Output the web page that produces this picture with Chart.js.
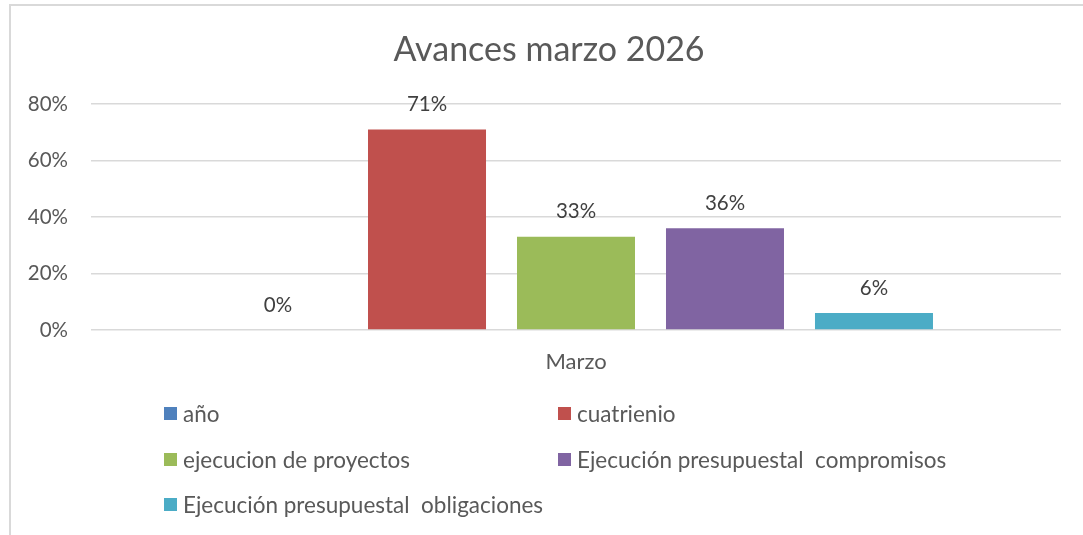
<!DOCTYPE html>
<html>
<head>
<meta charset="utf-8">
<script src="https://cdn.jsdelivr.net/npm/chart.js@4/dist/chart.umd.min.js"></script>
<style>
    html, body { margin: 0; padding: 0; background: #fff; }
    #wrap { position: relative; width: 1083px; height: 535px; overflow: hidden; }
    #frame {
        position: absolute; left: 9px; top: 4px; width: 1200px; height: 700px;
        border-top: 2px solid #d9d9d9; border-left: 2px solid #d9d9d9;
    }
    #container { position: absolute; left: 0; top: 0; }
    #legend {
        position: absolute; left: 164px; top: 391px;
        display: grid; grid-template-columns: 394px auto; grid-auto-rows: 45.5px;
        align-items: center;
        font-family: Lato, sans-serif; font-size: 22.5px; color: #595959;
    }
    #legend .item { display: flex; align-items: center; white-space: pre; }
    #legend .box { width: 13px; height: 13px; margin-right: 6px; }
</style>
</head>
<body>
<div id="wrap">
    <div id="frame"></div>
    <canvas id="container" width="1083" height="535"></canvas>
    <div id="legend"></div>
</div>
<script>
const categories = ['Marzo'];
const seriesNames = [
    'año',
    'cuatrienio',
    'ejecucion de proyectos',
    'Ejecución presupuestal  compromisos',
    'Ejecución presupuestal  obligaciones'
];
const seriesValues = [0, 71, 33, 36, 6];
const seriesColors = ['#4f81bd', '#c0504d', '#9bbb59', '#8064a2', '#4bacc6'];
const yTicks = [0, 20, 40, 60, 80];
const chartTitle = 'Avances marzo 2026';

const FONT = 'Lato, sans-serif';
const TEXT = '#595959';

// draws the value above each bar
const barLabels = {
    id: 'barLabels',
    afterDatasetsDraw(chart) {
        const ctx = chart.ctx;
        ctx.save();
        ctx.font = '20.5px ' + FONT;
        ctx.fillStyle = '#404040';
        ctx.textAlign = 'center';
        ctx.textBaseline = 'middle';
        chart.data.datasets.forEach((ds, i) => {
            const meta = chart.getDatasetMeta(i);
            meta.data.forEach((bar, j) => {
                ctx.fillText(ds.data[j] + '%', bar.x, bar.y - 25);
            });
        });
        ctx.restore();
    }
};

// title sits over the whole frame, not the plot area
const frameTitle = {
    id: 'frameTitle',
    afterDraw(chart) {
        const ctx = chart.ctx;
        ctx.save();
        ctx.font = '34px ' + FONT;
        ctx.fillStyle = TEXT;
        ctx.textAlign = 'center';
        ctx.textBaseline = 'middle';
        ctx.fillText(chartTitle, (chart.chartArea.right + 37) / 2, 50);
        ctx.restore();
    }
};

const chart = new Chart(document.querySelector('#container'), {
    type: 'bar',
    data: {
        labels: categories,
        datasets: seriesNames.map((name, i) => ({
            label: name,
            data: [seriesValues[i]],
            backgroundColor: seriesColors[i],
            borderWidth: 0,
            categoryPercentage: 0.768,
            barPercentage: 0.792
        }))
    },
    options: {
        responsive: false,
        animation: false,
        layout: {
            padding: { left: 0, right: 22, top: 104, bottom: 145 }
        },
        plugins: {
            legend: { display: false },
            tooltip: { enabled: false },
            title: { display: false }
        },
        scales: {
            x: {
                grid: { display: false },
                border: { display: false },
                ticks: {
                    color: TEXT,
                    padding: 11,
                    font: { family: FONT, size: 22 }
                },
                afterFit: (scale) => { scale.height = 60; }
            },
            y: {
                min: 0,
                max: 80,
                afterBuildTicks: (scale) => {
                    scale.ticks = yTicks.map(v => ({ value: v }));
                },
                grid: { color: '#d9d9d9', lineWidth: 1.5, drawTicks: false },
                border: { display: false },
                ticks: {
                    color: TEXT,
                    padding: 23,
                    font: { family: FONT, size: 20.5 },
                    callback: (v) => v + '%'
                },
                afterFit: (scale) => { scale.width = 91; }
            }
        }
    },
    plugins: [barLabels, frameTitle]
});

// legend in two columns, built from the chart's own items
const legendEl = document.querySelector('#legend');
Chart.defaults.plugins.legend.labels.generateLabels(chart).forEach(item => {
    const el = document.createElement('div');
    el.className = 'item';
    const box = document.createElement('span');
    box.className = 'box';
    box.style.background = item.fillStyle;
    el.appendChild(box);
    el.appendChild(document.createTextNode(item.text));
    legendEl.appendChild(el);
});
</script>
</body>
</html>
